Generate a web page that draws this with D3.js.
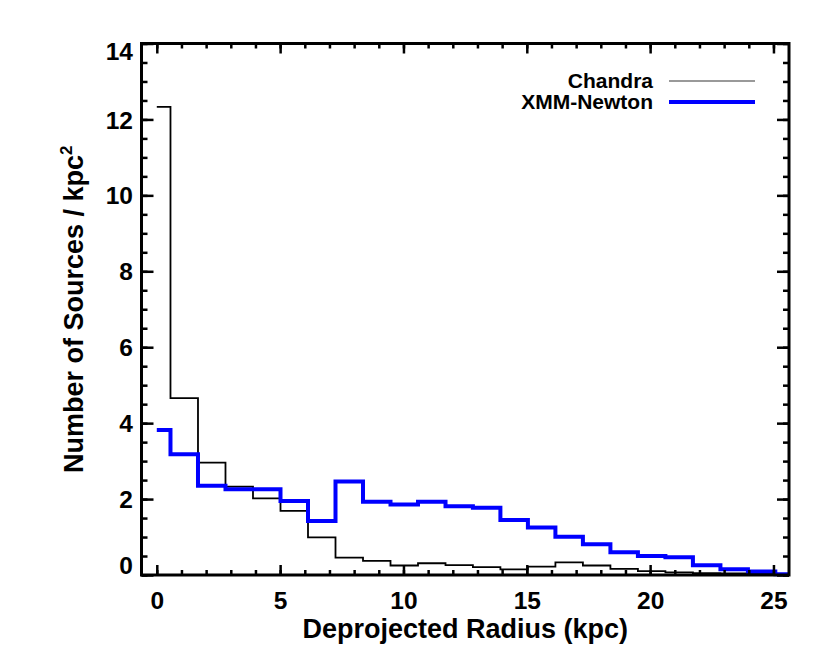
<!DOCTYPE html>
<html>
<head>
<meta charset="utf-8">
<script src="https://cdn.jsdelivr.net/npm/d3@7/dist/d3.min.js"></script>
<style>
  body { margin: 0; background: #fff; }
  text { font-family: "Liberation Sans", Arial, Helvetica, sans-serif; font-weight: bold; fill: #000; }
</style>
</head>
<body>
<script>
// bin centres (kpc)
var radius = [0, 1.11, 2.23, 3.34, 4.46, 5.57, 6.69, 7.80, 8.92, 10.03, 11.15, 12.26,
              13.37, 14.49, 15.60, 16.72, 17.83, 18.95, 20.06, 21.18, 22.29, 23.41, 24.52, 25.63];
// surface density of sources
var chandra = [12.33, 4.66, 2.96, 2.33, 2.02, 1.69, 0.99, 0.46, 0.37, 0.25, 0.31, 0.26,
               0.21, 0.15, 0.22, 0.33, 0.25, 0.16, 0.10, 0.07, 0.05, 0.04, 0.03, 0.02];
var xmm = [3.82, 3.18, 2.35, 2.26, 2.26, 1.95, 1.42, 2.46, 1.93, 1.86, 1.93, 1.81,
           1.77, 1.45, 1.25, 1.01, 0.81, 0.60, 0.50, 0.47, 0.26, 0.15, 0.09, 0.02];
var xTicks = [0, 5, 10, 15, 20, 25],
    xMinor = d3.range(0, 26, 1),
    yTicks = [0, 2, 4, 6, 8, 10, 12, 14],
    yMinor = d3.range(0, 14.01, 0.5);
var seriesNames = ["Chandra", "XMM-Newton"];

// set up variables
var canvasWidth = 830, canvasHeight = 665,
    plotLeft = 141.5, plotRight = 789, plotTop = 43.5, plotBottom = 575;

var figure = d3.select("body")
    .append("svg")
        .attr("width", canvasWidth)
        .attr("height", canvasHeight);

var x = d3.scaleLinear()
        .range([plotLeft, plotRight])
        .domain([-0.62, 25.63]);
var y = d3.scaleLinear()
        .range([plotBottom, plotTop])
        .domain([0, 14]);

// histograms, drawn IDL psym=10 style (steps halfway between bins)
var step = d3.line().curve(d3.curveStep);

figure.append("path")
    .attr("d", step(radius.map(function(r, i) { return [x(r), y(chandra[i])]; })))
    .attr("fill", "none")
    .attr("stroke", "#000")
    .attr("stroke-width", 1.8);

figure.append("path")
    .attr("d", step(radius.map(function(r, i) { return [x(r), y(xmm[i])]; })))
    .attr("fill", "none")
    .attr("stroke", "#0000ff")
    .attr("stroke-width", 4);

// axes: ticks point inward on all four sides
function styleAxis(g) {
    g.select(".domain").remove();
    g.selectAll("line").attr("stroke", "#000").attr("stroke-width", 2.5);
    g.selectAll("text").attr("font-size", 24.5).attr("font-family", null);
}

figure.append("g")
    .attr("transform", "translate(0," + plotBottom + ")")
    .call(d3.axisBottom(x).tickValues(xMinor).tickSize(-5).tickFormat(""))
    .call(styleAxis);
figure.append("g")
    .attr("transform", "translate(0," + plotBottom + ")")
    .call(d3.axisBottom(x).tickValues(xTicks).tickSize(-10).tickPadding(17))
    .call(styleAxis);
figure.append("g")
    .attr("transform", "translate(0," + plotTop + ")")
    .call(d3.axisTop(x).tickValues(xMinor).tickSize(-5).tickFormat(""))
    .call(styleAxis);
figure.append("g")
    .attr("transform", "translate(0," + plotTop + ")")
    .call(d3.axisTop(x).tickValues(xTicks).tickSize(-10).tickFormat(""))
    .call(styleAxis);

figure.append("g")
    .attr("transform", "translate(" + plotLeft + ",0)")
    .call(d3.axisLeft(y).tickValues(yMinor).tickSize(-6).tickFormat(""))
    .call(styleAxis);
var yAxis = figure.append("g")
    .attr("transform", "translate(" + plotLeft + ",0)")
    .call(d3.axisLeft(y).tickValues(yTicks).tickSize(-12).tickPadding(8.5))
    .call(styleAxis);
// IDL nudges the end labels inside the axis range
yAxis.selectAll(".tick text")
    .attr("dy", function(d) { return d === 14 ? "0.65em" : d === 0 ? "-0.05em" : "0.35em"; });

figure.append("g")
    .attr("transform", "translate(" + plotRight + ",0)")
    .call(d3.axisRight(y).tickValues(yMinor).tickSize(-6).tickFormat(""))
    .call(styleAxis);
figure.append("g")
    .attr("transform", "translate(" + plotRight + ",0)")
    .call(d3.axisRight(y).tickValues(yTicks).tickSize(-12).tickFormat(""))
    .call(styleAxis);

// frame
figure.append("rect")
    .attr("x", plotLeft)
    .attr("y", plotTop)
    .attr("width", plotRight - plotLeft)
    .attr("height", plotBottom - plotTop)
    .attr("fill", "none")
    .attr("stroke", "#000")
    .attr("stroke-width", 3);

// axis labels
figure.append("text")
    .attr("text-anchor", "middle")
    .attr("x", (plotLeft + plotRight) / 2)
    .attr("y", 638)
    .attr("font-size", 27)
    .text("Deprojected Radius (kpc)");

var yLabel = figure.append("text")
    .attr("text-anchor", "middle")
    .attr("transform", "translate(83," + ((plotTop + plotBottom) / 2) + ") rotate(-90)")
    .attr("font-size", 27);
yLabel.append("tspan").text("Number of Sources / kpc");
yLabel.append("tspan").attr("dy", -11).attr("font-size", 17).text("2");

// legend
var legendY = [81, 102];
var legendColor = ["#777", "#0000ff"],
    legendWidth = [1.5, 4];
seriesNames.forEach(function(name, i) {
    figure.append("text")
        .attr("text-anchor", "end")
        .attr("x", 653)
        .attr("y", legendY[i] + 7)
        .attr("font-size", 21)
        .text(name);
    figure.append("line")
        .attr("x1", 669)
        .attr("x2", 755)
        .attr("y1", legendY[i])
        .attr("y2", legendY[i])
        .attr("stroke", legendColor[i])
        .attr("stroke-width", legendWidth[i]);
});
</script>
</body>
</html>
